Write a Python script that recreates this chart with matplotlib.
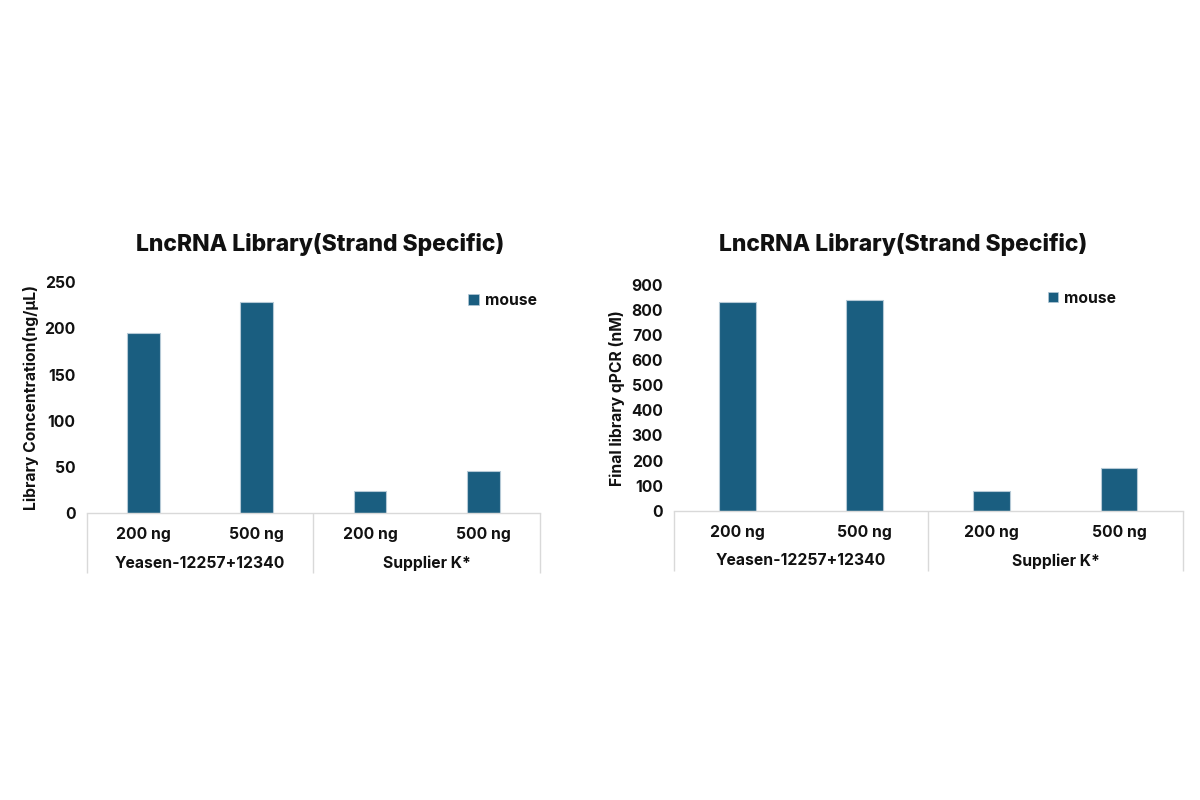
import matplotlib.pyplot as plt
from matplotlib.patches import Patch

plt.rcParams["font.family"] = ["Inter", "DejaVu Sans"]

categories = ["200 ng", "500 ng", "200 ng", "500 ng"]
groups = ["Yeasen-12257+12340", "Supplier K*"]
series_name = "mouse"
title = "LncRNA Library(Strand Specific)"

conc_values = [195, 228, 24, 46]
conc_label = "Library Concentration(ng/μL)"
conc_ticks = [0, 50, 100, 150, 200, 250]

qpcr_values = [831, 839, 80, 171]
qpcr_label = "Final library qPCR (nM)"
qpcr_ticks = [0, 100, 200, 300, 400, 500, 600, 700, 800, 900]

BAR_COLOR = "#1a5e80"
EDGE_COLOR = "#b5c9d6"
LINE_COLOR = "#d9d9d9"
TEXT_COLOR = "#111111"
FS = 11.3

fig = plt.figure(figsize=(12, 8), dpi=100)


def draw_panel(ax, values, ylabel, yticks, ylabel_x, legend_anchor):
    x = list(range(len(categories)))
    ax.bar(x, values, width=0.29, color=BAR_COLOR, edgecolor=EDGE_COLOR,
           linewidth=0.8)
    ax.set_xlim(-0.5, len(categories) - 0.5)
    ax.set_ylim(yticks[0], yticks[-1])
    ax.set_yticks(yticks)
    ax.set_xticks(x, categories)
    ax.tick_params(axis="x", length=0, pad=10, labelsize=FS,
                   labelcolor=TEXT_COLOR)
    ax.tick_params(axis="y", length=0, pad=8, labelsize=FS,
                   labelcolor=TEXT_COLOR)
    for lab in ax.get_xticklabels() + ax.get_yticklabels():
        lab.set_fontweight("bold")
    for side in ["top", "right", "left"]:
        ax.spines[side].set_visible(False)
    ax.spines["bottom"].set_color(LINE_COLOR)
    ax.spines["bottom"].set_linewidth(1)

    ax.set_ylabel(ylabel, fontsize=FS, fontweight="bold", color=TEXT_COLOR)
    ax.yaxis.set_label_coords(ylabel_x, 0.5)

    # group separators
    sep = ax.secondary_xaxis("bottom")
    sep.set_xticks([-0.5, 1.5, 3.5], labels=["", "", ""])
    sep.tick_params(axis="x", length=43, width=1, color=LINE_COLOR,
                    direction="out")
    sep.spines["bottom"].set_visible(False)

    # group labels
    grp = ax.secondary_xaxis("bottom")
    grp.set_xticks([0.5, 2.5], labels=groups)
    grp.tick_params(axis="x", length=0, pad=30.5, labelsize=FS,
                    labelcolor=TEXT_COLOR)
    for lab in grp.get_xticklabels():
        lab.set_fontweight("bold")
    grp.spines["bottom"].set_visible(False)

    handle = Patch(facecolor=BAR_COLOR, edgecolor=EDGE_COLOR, linewidth=0.5)
    ax.legend([handle], [series_name], loc="center right",
              bbox_to_anchor=legend_anchor, frameon=False, borderpad=0,
              borderaxespad=0, handlelength=0.65, handleheight=0.65,
              handletextpad=0.4,
              prop={"size": FS, "weight": "bold"},
              labelcolor=TEXT_COLOR)


ax1 = fig.add_axes([0.0722, 0.3584, 0.3778, 0.2891])
draw_panel(ax1, conc_values, conc_label, conc_ticks, -0.106, (0.993, 0.919))

ax2 = fig.add_axes([0.5617, 0.3616, 0.4238, 0.2821])
draw_panel(ax2, qpcr_values, qpcr_label, qpcr_ticks, -0.096, (0.870, 0.942))

fig.text(320 / 1200, 1 - 244 / 800, title, ha="center", va="center",
         fontsize=16.5, fontweight="heavy", color=TEXT_COLOR)
fig.text(903 / 1200, 1 - 244 / 800, title, ha="center", va="center",
         fontsize=16.5, fontweight="heavy", color=TEXT_COLOR)

fig.savefig("out.png", dpi=100, facecolor="white")
